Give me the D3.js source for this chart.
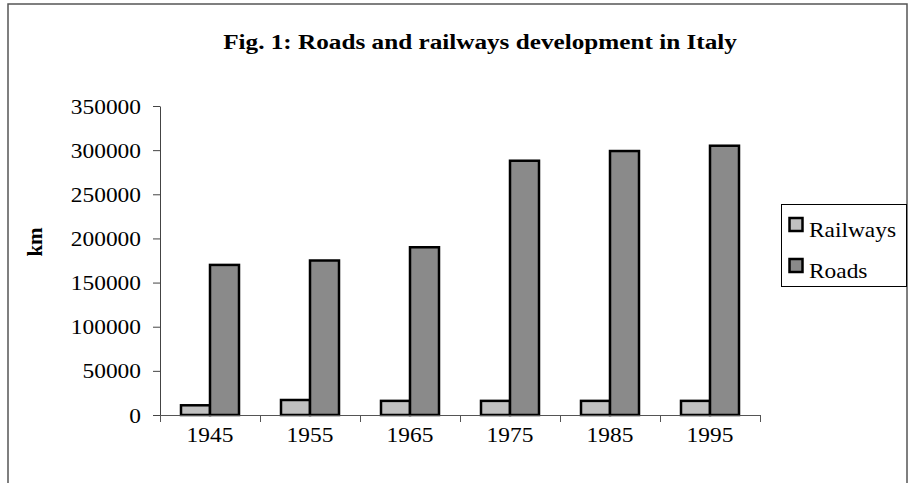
<!DOCTYPE html>
<html>
<head>
<meta charset="utf-8">
<script src="https://cdn.jsdelivr.net/npm/d3@7"></script>
<style>
  body { margin: 0; background: #fff; }
  text { font-family: "Liberation Serif", "Times New Roman", serif; fill: #000; }
</style>
</head>
<body>
<svg width="909" height="483"></svg>
<script>
// data
var years = ["1945", "1955", "1965", "1975", "1985", "1995"];
var railways = [11000, 17000, 16000, 16000, 16000, 16000];
var roads = [170000, 175000, 190000, 288000, 299000, 305000];
var seriesNames = ["Railways", "Roads"];
var seriesColors = ["#c0c0c0", "#8a8a8a"];
var yTicks = [0, 50000, 100000, 150000, 200000, 250000, 300000, 350000];

// the original picture is a bit wider than tall, text looks stretched
var sx = 1.17;

var svg = d3.select("svg");
var plot = {left: 160, right: 760, top: 106, bottom: 415};

// outer frame (bottom is cut off in the original)
svg.append("path")
    .attr("d", "M8,483V4H907V483")
    .attr("fill", "none")
    .attr("stroke", "#555")
    .attr("stroke-width", 1.5);

svg.append("text")
    .attr("transform", "translate(480,49) scale(1.2,1)")
    .attr("text-anchor", "middle")
    .style("font-size", "21px")
    .style("font-weight", "bold")
    .text("Fig. 1: Roads and railways development in Italy");

var x0 = d3.scaleBand()
    .domain(years)
    .range([plot.left, plot.right]);

var x1 = d3.scaleBand()
    .domain(seriesNames)
    .range([x0.bandwidth() * 0.21, x0.bandwidth() * 0.79]);

var y = d3.scaleLinear()
    .domain([0, 350000])
    .range([plot.bottom, plot.top]);

// y axis
var yAxis = d3.axisLeft(y)
    .tickValues(yTicks)
    .tickFormat(d3.format("d"))
    .tickSize(7)
    .tickSizeOuter(0)
    .tickPadding(12);

var gy = svg.append("g")
    .attr("transform", "translate(" + plot.left + ",0)")
    .call(yAxis);
gy.selectAll("text")
    .style("font-size", "20px")
    .style("font-family", "Liberation Serif, serif")
    .attr("dy", "0.35em")
    .attr("x", function() { return +this.getAttribute("x") / sx; })
    .attr("transform", "scale(" + sx + ",1)");
gy.selectAll("line, path").attr("stroke", "#444");

svg.append("text")
    .attr("transform", "translate(42,242) rotate(-90)")
    .attr("text-anchor", "middle")
    .style("font-size", "21px")
    .style("font-weight", "bold")
    .text("km");

// bars
var rows = years.map(function(yr, i) {
    return {year: yr, values: [railways[i], roads[i]]};
});

var groups = svg.append("g").selectAll("g")
    .data(rows)
    .enter()
    .append("g")
    .attr("transform", function(d) { return "translate(" + x0(d.year) + ",0)"; });

groups.selectAll("rect")
    .data(function(d) {
        return d.values.map(function(v, j) { return {name: seriesNames[j], value: v, j: j}; });
    })
    .enter()
    .append("rect")
    .attr("x", function(d) { return x1(d.name); })
    .attr("width", x1.bandwidth())
    .attr("y", function(d) { return y(d.value); })
    .attr("height", function(d) { return y(0) - y(d.value); })
    .attr("fill", function(d) { return seriesColors[d.j]; })
    .attr("stroke", "#000")
    .attr("stroke-width", 2.5);

// x axis: tick marks between categories, labels at centres
var xIdx = d3.scaleLinear().domain([0, years.length]).range([plot.left, plot.right]);
var gx = svg.append("g")
    .attr("transform", "translate(0," + plot.bottom + ")")
    .call(d3.axisBottom(xIdx).ticks(years.length).tickFormat("").tickSize(7).tickSizeOuter(0));
gx.selectAll("line, path").attr("stroke", "#555");

var gxl = svg.append("g")
    .attr("transform", "translate(0," + plot.bottom + ")")
    .call(d3.axisBottom(x0).tickSize(0).tickPadding(13));
gxl.select(".domain").remove();
gxl.selectAll("text")
    .style("font-size", "20px")
    .style("font-family", "Liberation Serif, serif")
    .attr("transform", "scale(" + sx + ",1)");

// legend
var legend = svg.append("g");
legend.append("rect")
    .attr("x", 781.5).attr("y", 204.5)
    .attr("width", 125).attr("height", 82)
    .attr("fill", "#fff")
    .attr("stroke", "#000")
    .attr("stroke-width", 1);

var items = legend.selectAll("g.item")
    .data(seriesNames)
    .enter()
    .append("g")
    .attr("class", "item")
    .attr("transform", function(d, i) { return "translate(789.5," + (218 + i * 41) + ")"; });

items.append("rect")
    .attr("width", 13).attr("height", 13)
    .attr("fill", function(d, i) { return seriesColors[i]; })
    .attr("stroke", "#000")
    .attr("stroke-width", 2.5);

items.append("text")
    .attr("transform", "translate(19.5,19) scale(" + sx + ",1)")
    .style("font-size", "20px")
    .text(function(d) { return d; });
</script>
</body>
</html>
